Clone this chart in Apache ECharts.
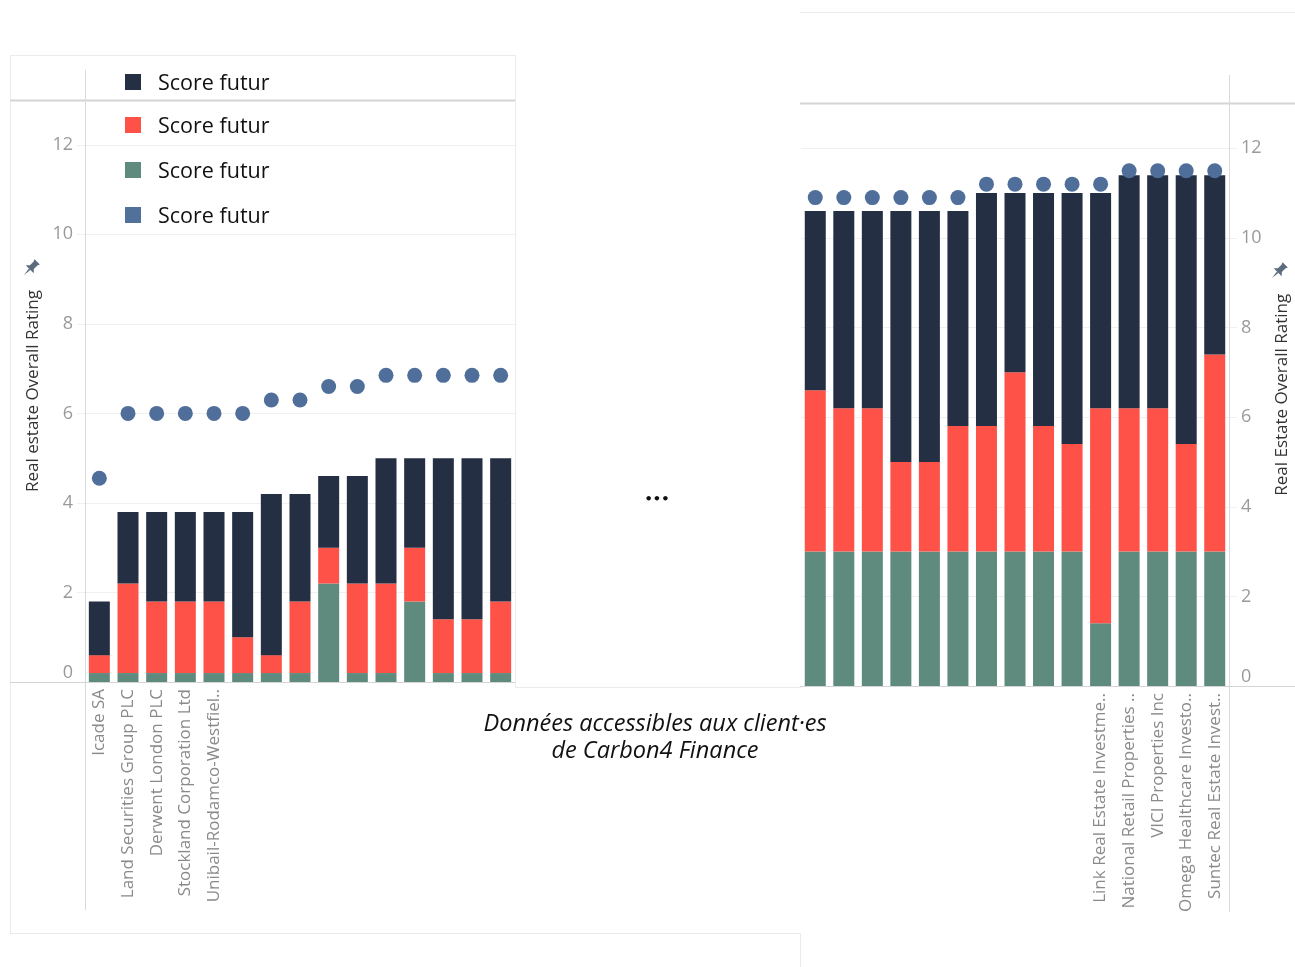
<!DOCTYPE html>
<html><head><meta charset="utf-8">
<script src="https://cdn.jsdelivr.net/npm/echarts@6/dist/echarts.min.js"></script>
<style>html,body{margin:0;padding:0;background:#fff}#c{width:1295px;height:967px}</style>
</head><body><div id="c"></div>
<script>
// ---- data ----
const leftCategories = ["Icade SA","Land Securities Group PLC","Derwent London PLC","Stockland Corporation Ltd","Unibail-Rodamco-Westfiel..","","","","","","","","","",""];
const leftGreen = [0.2,0.2,0.2,0.2,0.2,0.2,0.2,0.2,2.2,0.2,0.2,1.8,0.2,0.2,0.2];
const leftRed   = [0.4,2.0,1.6,1.6,1.6,0.8,0.4,1.6,0.8,2.0,2.0,1.2,1.2,1.2,1.6];
const leftDark  = [1.2,1.6,2.0,2.0,2.0,2.8,3.6,2.4,1.6,2.4,2.8,2.0,3.6,3.6,3.2];
const leftDots  = [4.55,6.0,6.0,6.0,6.0,6.0,6.3,6.3,6.6,6.6,6.85,6.85,6.85,6.85,6.85];

const rightCategories = ["","","","","","","","","","","Link Real Estate Investme..","National Retail Properties ..","VICI Properties Inc","Omega Healthcare Investo..","Suntec Real Estate Invest.."];
const rightGreen = [3,3,3,3,3,3,3,3,3,3,1.4,3,3,3,3];
const rightRed   = [3.6,3.2,3.2,2.0,2.0,2.8,2.8,4.0,2.8,2.4,4.8,3.2,3.2,2.4,4.4];
const rightDark  = [4.0,4.4,4.4,5.6,5.6,4.8,5.2,4.0,5.2,5.6,4.8,5.2,5.2,6.0,4.0];
const rightDots  = [10.9,10.9,10.9,10.9,10.9,10.9,11.2,11.2,11.2,11.2,11.2,11.5,11.5,11.5,11.5];

const yTicks = [0,2,4,6,8,10,12];
const legendLabels = ["Score futur","Score futur","Score futur","Score futur"];
const leftAxisTitle = "Real estate Overall Rating";
const rightAxisTitle = "Real Estate Overall Rating";
const noteLines = ["Données accessibles aux client·es","de Carbon4 Finance"];

// ---- styles ----
const C_DARK = "#252f44", C_RED = "#fe5249", C_GREEN = "#5e8b7e", C_BLUE = "#4f6f9a";
const GRID_LINE = "#f0f0f0", AXIS_LINE = "#d4d4d4", FRAME = "#ebebeb";
const labelFont = "Open Sans";

function yAxisCfg(grid, pos, name, gap) {
  return {
    gridIndex: grid, type: "value", position: pos, min: 0, max: 13, interval: 2,
    axisLine: {show: false},
    axisTick: {show: true, length: 8, lineStyle: {color: GRID_LINE}},
    splitLine: {show: true, lineStyle: {color: GRID_LINE, width: 1}},
    axisLabel: {
      color: "#9a9a9a", fontSize: 18, fontFamily: labelFont, margin: 12,
      verticalAlignMinLabel: "bottom",
      formatter: v => (yTicks.indexOf(v) >= 0 ? String(v) : "")
    },
    name: name, nameLocation: "middle", nameGap: gap,
    nameTextStyle: {color: "#333", fontSize: 17, fontFamily: labelFont}
  };
}
function xAxisCfg(grid, cats) {
  return {
    gridIndex: grid, type: "category", data: cats,
    axisLine: {show: false}, axisTick: {show: false}, splitLine: {show: false},
    axisLabel: {rotate: 90, interval: 0, color: "#8a8a8a", fontSize: 17, fontFamily: labelFont, margin: 7}
  };
}
function barSeries(xi, data, color, stack) {
  return {type: "bar", xAxisIndex: xi, yAxisIndex: xi, stack: stack, data: data,
    barWidth: 21, itemStyle: {color: color}, emphasis: {disabled: true}, animation: false};
}
function dotSeries(xi, data) {
  return {type: "scatter", xAxisIndex: xi, yAxisIndex: xi, data: data, symbol: "circle",
    symbolSize: 15, itemStyle: {color: C_BLUE, opacity: 1}, z: 5, animation: false};
}
function hline(x1, x2, y, color, w) {
  return {type: "line", silent: true, z: 50, shape: {x1: x1, y1: y, x2: x2, y2: y}, style: {stroke: color, lineWidth: w || 1}};
}
function vline(x, y1, y2, color, w) {
  return {type: "line", silent: true, z: 50, shape: {x1: x, y1: y1, x2: x, y2: y2}, style: {stroke: color, lineWidth: w || 1}};
}
function pin(x, y) {
  const body = [[-3,-7],[3,-7],[2.2,-5],[2.2,-1],[4.5,1.5],[-4.5,1.5],[-2.2,-1],[-2.2,-5]];
  const needle = [[-0.8,1.5],[0.8,1.5],[0,8]];
  return {type: "group", x: x, y: y, rotation: -Math.PI / 4, scaleX: 1.25, scaleY: 1.25, silent: true, children: [
    {type: "polygon", shape: {points: body}, style: {fill: "#5b6b80"}},
    {type: "polygon", shape: {points: needle}, style: {fill: "#5b6b80"}}
  ]};
}

const legendColors = [C_DARK, C_RED, C_GREEN, "#51719b"];
const legendY = [82, 125, 170, 215];
const graphics = [];
graphics.push(hline(10, 515, 55.5, FRAME), vline(10.5, 55, 933, FRAME), vline(515.5, 55, 687, FRAME),
  hline(10, 800, 933.5, FRAME), hline(515, 801, 687.5, FRAME),
  hline(800, 1295, 12.5, FRAME), vline(800.5, 933, 967, FRAME));
graphics.push(hline(10, 515, 100.5, AXIS_LINE, 2), vline(85.5, 70, 910, "#d9d9d9"), hline(10, 515, 682.5, AXIS_LINE));
graphics.push(hline(800, 1295, 103.5, AXIS_LINE, 2), vline(1229.5, 75, 912, "#d9d9d9"), hline(800, 1295, 686.5, AXIS_LINE));
legendLabels.forEach((t, i) => {
  graphics.push({type: "rect", silent: true, z: 60, shape: {x: 125, y: legendY[i] - 8, width: 16, height: 16}, style: {fill: legendColors[i]}});
  graphics.push({type: "text", silent: true, z: 60, x: 158, y: legendY[i] + 2, style: {text: t, fill: "#111", font: "21.5px 'Open Sans'", textVerticalAlign: "middle"}});
});
graphics.push(pin(31, 268), pin(1279, 271));
graphics.push({type: "text", silent: true, x: 657, y: 500, style: {text: "•••", fill: "#111", font: "bold 13px 'DejaVu Sans'", textAlign: "center", textVerticalAlign: "middle"}});
noteLines.forEach((t, i) => {
  graphics.push({type: "text", silent: true, x: 655, y: 724 + i * 27, style: {text: t, fill: "#111", font: "italic 23.5px 'Open Sans'", textAlign: "center", textVerticalAlign: "middle"}});
});

const chart = echarts.init(document.getElementById("c"), null, {renderer: "canvas"});
chart.setOption({
  backgroundColor: "#fff",
  animation: false,
  grid: [
    {left: 85, top: 100, width: 430, height: 582},
    {left: 801, top: 103.5, width: 428, height: 582.5}
  ],
  xAxis: [xAxisCfg(0, leftCategories), xAxisCfg(1, rightCategories)],
  yAxis: [yAxisCfg(0, "left", leftAxisTitle, 43), yAxisCfg(1, "right", rightAxisTitle, 45)],
  series: [
    barSeries(0, leftGreen, C_GREEN, "L"), barSeries(0, leftRed, C_RED, "L"), barSeries(0, leftDark, C_DARK, "L"), dotSeries(0, leftDots),
    barSeries(1, rightGreen, C_GREEN, "R"), barSeries(1, rightRed, C_RED, "R"), barSeries(1, rightDark, C_DARK, "R"), dotSeries(1, rightDots)
  ],
  graphic: graphics
});
</script>
</body></html>
